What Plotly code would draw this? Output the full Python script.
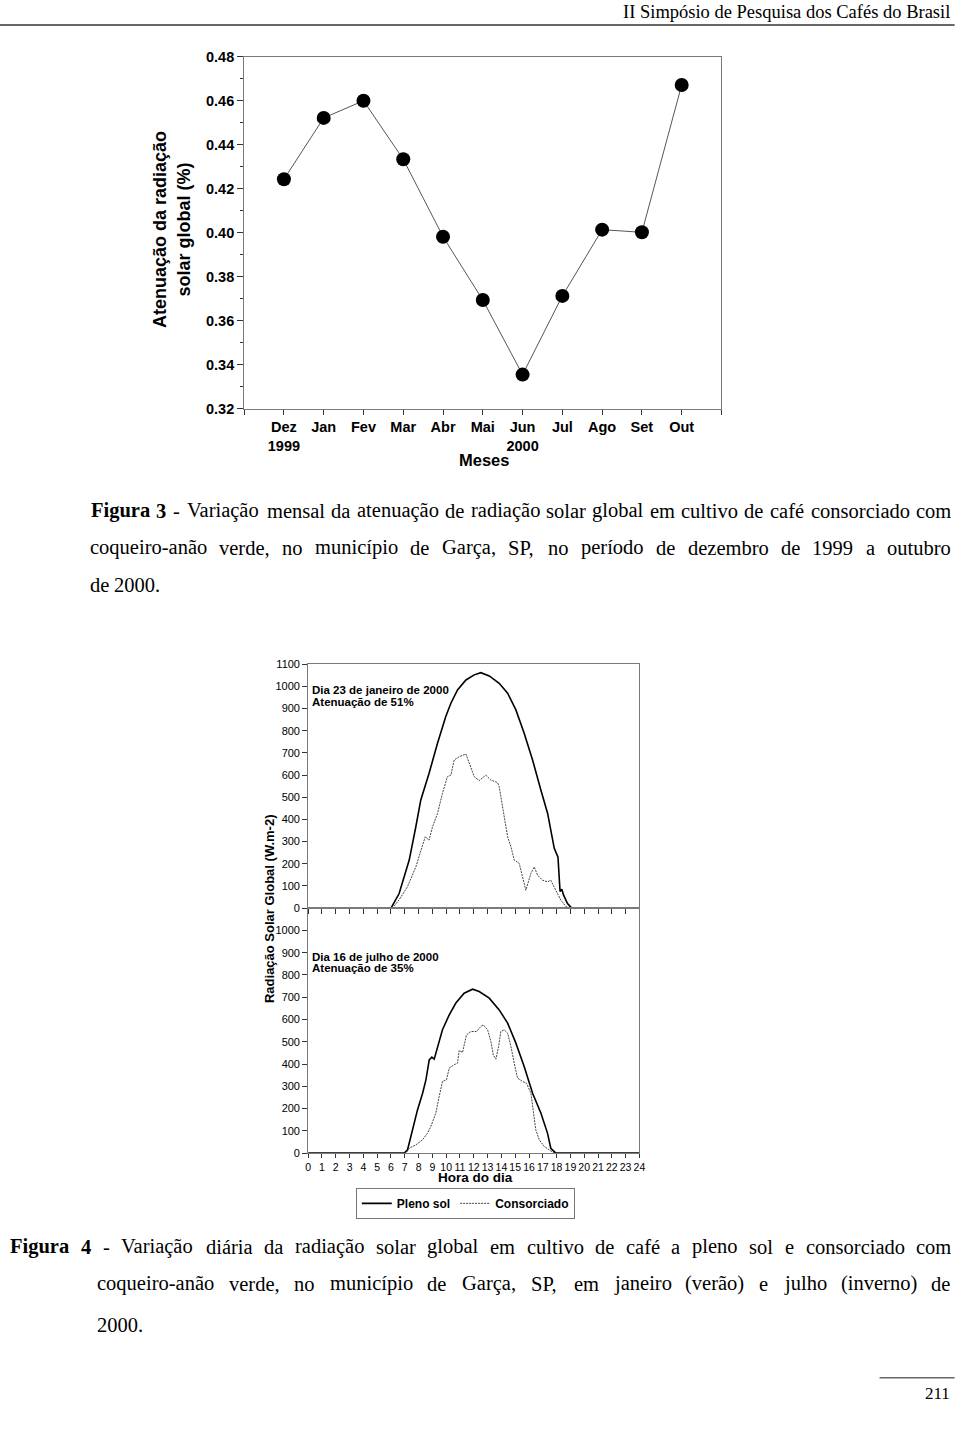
import plotly.graph_objects as go

W, H = 960, 1436
# Observed page-capture transform (rendered = A + S * figure px); positions below are
# given in target-picture pixels and mapped back through it.
SX, SY = 0.99, 0.989
AX0, AY0 = 4.0, 8.0

# ---------------- Data ----------------
months = ["Dez", "Jan", "Fev", "Mar", "Abr", "Mai", "Jun", "Jul", "Ago", "Set", "Out"]
month_years = {"Dez": "1999", "Jun": "2000"}
attenuation = [0.4244, 0.4523, 0.4601, 0.4335, 0.3983, 0.3695, 0.3356, 0.3714, 0.4015, 0.4003, 0.4673]

jan_pleno_h = [0, 6.0, 6.59, 7.32, 7.80, 8.16, 8.76, 9.37, 9.97, 10.34, 10.82, 11.43, 12.03, 12.51,
               13.12, 13.84, 14.45, 15.05, 15.65, 16.26, 16.86, 17.35, 17.83, 18.1, 18.25, 18.38,
               18.5, 18.79, 19.1, 24]
jan_pleno_v = [0, 0, 66, 217, 367, 488, 608, 744, 864, 924, 984, 1029, 1052, 1062,
               1047, 1014, 969, 894, 789, 668, 533, 427, 270, 230, 75, 85, 60, 21, 0, 0]

jan_cons_h = [0, 6.11, 6.59, 7.19, 7.80, 8.16, 8.48, 8.76, 9.01, 9.37, 9.73, 10.09, 10.34, 10.58,
              10.94, 11.43, 11.67, 12.03, 12.39, 12.87, 13.23, 13.72, 13.84, 14.20, 14.45, 14.69,
              14.93, 15.29, 15.53, 15.77, 16.14, 16.38, 16.62, 16.98, 17.34, 17.58, 17.94, 18.31,
              18.67, 19.0, 24]
jan_cons_v = [0, 0, 38, 96, 186, 262, 322, 307, 367, 427, 518, 593, 600, 668,
              683, 695, 653, 593, 575, 600, 578, 566, 548, 412, 322, 277,
              217, 202, 141, 81, 157, 186, 149, 126, 119, 126, 81, 36,
              8, 0, 0]

jul_pleno_h = [0, 6.96, 7.20, 7.56, 7.92, 8.29, 8.53, 8.77, 8.96, 9.13, 9.37, 9.73, 10.22, 10.70,
               11.30, 11.91, 12.39, 13.12, 13.84, 14.45, 15.05, 15.65, 16.26, 16.86, 17.34, 17.58,
               17.95, 24]
jul_pleno_v = [0, 0, 15, 105, 194, 269, 329, 419, 431, 422, 479, 554, 621, 674,
               718, 736, 726, 696, 643, 584, 494, 389, 269, 180, 90, 22,
               0, 0]

jul_cons_h = [0, 7.08, 7.32, 7.80, 8.29, 8.65, 8.89, 9.25, 9.49, 9.73, 10.02, 10.22, 10.58, 10.82,
              10.94, 11.18, 11.47, 11.79, 12.20, 12.51, 12.68, 13.00, 13.24, 13.41, 13.60, 13.80,
              13.96, 14.20, 14.45, 14.69, 14.93, 15.17, 15.53, 15.82, 16.14, 16.30, 16.49, 16.74,
              17.10, 17.46, 17.83, 24]
jul_cons_v = [0, 0, 22, 37, 60, 90, 120, 180, 254, 322, 329, 382, 397, 404,
              461, 452, 531, 546, 546, 569, 576, 554, 501, 441, 422, 479,
              546, 554, 539, 479, 404, 337, 322, 314, 269, 194, 105, 60,
              30, 15, 0, 0]

hour_ticks = list(range(0, 25))

caption3 = [
    "Figura 3 - Variação mensal da atenuação de radiação solar global em cultivo de café consorciado com",
    "coqueiro-anão verde, no município de Garça, SP, no período de dezembro de 1999 a outubro",
    "de 2000.",
]
caption4 = [
    "Figura 4 - Variação diária da radiação solar global em cultivo de café a pleno sol e consorciado com",
    "coqueiro-anão verde, no município de Garça, SP, em janeiro (verão) e julho (inverno) de",
    "2000.",
]

# ---------------- Helpers ----------------
def px_x(x):
    return ((x - AX0) / SX) / W

def px_y(y):
    return 1 - ((y - AY0) / SY) / H

SANS = "Liberation Sans, Arial, sans-serif"
SERIF = "Liberation Serif, Times New Roman, serif"
AXC = "#7a7a7a"
TK = "#333333"

# Times (Liberation Serif) advance widths per 1000 em
TIMES = dict(zip("abcdefghijklmnopqrstuvwxyz",
                 [444, 500, 444, 500, 444, 333, 500, 500, 278, 278, 500, 278, 778,
                  500, 500, 500, 500, 333, 389, 278, 500, 500, 722, 500, 500, 444]))
TIMES.update(dict(zip("ABCDEFGHIJKLMNOPQRSTUVWXYZ",
                      [722, 667, 667, 722, 611, 556, 722, 722, 333, 389, 722, 611, 889,
                       722, 722, 556, 722, 667, 556, 611, 722, 722, 944, 722, 722, 611])))
TIMES.update({c: 500 for c in "0123456789"})
TIMES.update({",": 250, ".": 250, "-": 333, "(": 333, ")": 333, " ": 250})
TIMES_B = dict(TIMES)
TIMES_B.update({"F": 611, "i": 278, "g": 500, "u": 556, "r": 444, "a": 500})
ACCENT = str.maketrans("ãáâàçéêíóôõú", "aaaaceeiooou")

def word_width(word, size, bold):
    table = TIMES_B if bold else TIMES
    return sum(table.get(ch.translate(ACCENT), 500) for ch in word) * size / 1000.0

fig = go.Figure()

# Figure 3 chart
fig.add_trace(go.Scatter(
    x=[i + 1 for i in range(len(months))], y=attenuation,
    mode="lines+markers",
    line=dict(color="#555555", width=1),
    marker=dict(color="black", size=14),
    showlegend=False, xaxis="x", yaxis="y"))

# Figure 4 - January
fig.add_trace(go.Scatter(x=jan_pleno_h, y=jan_pleno_v, mode="lines",
                         line=dict(color="black", width=1.6), showlegend=False,
                         xaxis="x2", yaxis="y2"))
fig.add_trace(go.Scatter(x=jan_cons_h, y=jan_cons_v, mode="lines",
                         line=dict(color="#444444", width=1, dash="2px,1px"), showlegend=False,
                         xaxis="x2", yaxis="y2"))
# Figure 4 - July
fig.add_trace(go.Scatter(x=jul_pleno_h, y=jul_pleno_v, mode="lines", name="Pleno sol",
                         line=dict(color="black", width=1.6),
                         xaxis="x3", yaxis="y3"))
fig.add_trace(go.Scatter(x=jul_cons_h, y=jul_cons_v, mode="lines", name="Consorciado",
                         line=dict(color="#444444", width=1, dash="2px,1px"),
                         xaxis="x3", yaxis="y3"))

month_text = [""] + [m + ("<br>" + month_years[m] if m in month_years else "") for m in months] + [""]

fig.update_layout(
    width=W, height=H, autosize=False,
    margin=dict(l=0, r=0, t=0, b=0),
    paper_bgcolor="white", plot_bgcolor="white",
    font=dict(family=SANS, color="black"),
    xaxis=dict(domain=[px_x(245), px_x(722)], range=[0, 12],
               tickvals=list(range(0, 13)), ticktext=month_text, tickangle=0,
               ticks="outside", ticklen=5, tickcolor=TK,
               tickfont=dict(size=14.5, weight="bold", family=SANS),
               showline=True, linecolor=AXC, linewidth=1, mirror=True,
               showgrid=False, zeroline=False, anchor="y"),
    yaxis=dict(domain=[px_y(409), px_y(57)], range=[0.32, 0.48],
               tickvals=[0.32, 0.34, 0.36, 0.38, 0.40, 0.42, 0.44, 0.46, 0.48],
               tickformat=".2f",
               ticks="outside", ticklen=6, tickcolor=TK,
               minor=dict(dtick=0.01, tick0=0.32, ticks="outside", ticklen=3, tickcolor=TK, showgrid=False),
               tickfont=dict(size=14.5, weight="bold", family=SANS),
               showline=True, linecolor=AXC, linewidth=1, mirror=True,
               showgrid=False, zeroline=False, anchor="x"),
    xaxis2=dict(domain=[px_x(309), px_x(640)], range=[0, 24],
                tickvals=hour_ticks, showticklabels=False,
                ticks="outside", ticklen=5, tickcolor=TK,
                showline=True, linecolor=AXC, linewidth=1, mirror=True,
                showgrid=False, zeroline=False, anchor="y2"),
    yaxis2=dict(domain=[px_y(908.3), px_y(664.3)], range=[0, 1100],
                tickvals=list(range(0, 1101, 100)),
                ticks="outside", ticklen=5, tickcolor=TK,
                tickfont=dict(size=11, family=SANS),
                showline=True, linecolor=AXC, linewidth=1, mirror=True,
                showgrid=False, zeroline=False, anchor="x2"),
    xaxis3=dict(domain=[px_x(309), px_x(640)], range=[0, 24],
                tickvals=hour_ticks, ticktext=[str(h) for h in hour_ticks], tickangle=0,
                ticks="outside", ticklen=4, tickcolor=TK,
                tickfont=dict(size=10.5, family=SANS),
                showline=True, linecolor=AXC, linewidth=1, mirror=True,
                showgrid=False, zeroline=False, anchor="y3"),
    yaxis3=dict(domain=[px_y(1153.3), px_y(908.3)], range=[0, 1100],
                tickvals=list(range(0, 1001, 100)),
                ticks="outside", ticklen=5, tickcolor=TK,
                tickfont=dict(size=11, family=SANS),
                showline=True, linecolor=AXC, linewidth=1, mirror=True,
                showgrid=False, zeroline=False, anchor="x3"),
    legend=dict(orientation="h", x=px_x(466), xanchor="center",
                y=px_y(1188), yanchor="top",
                bordercolor="#777777", borderwidth=1, bgcolor="white",
                font=dict(size=12, weight="bold", family=SANS),
                itemwidth=30, tracegroupgap=0),
)

ann = []
def add_text(text, x, y, size, family=SANS, bold=False, xanchor="center", yanchor="middle", angle=0, color="black"):
    ann.append(dict(text=text, x=px_x(x), y=px_y(y), xref="paper", yref="paper",
                    showarrow=False, xanchor=xanchor, yanchor=yanchor, textangle=angle,
                    borderpad=0,
                    font=dict(size=size, family=family, color=color,
                              weight="bold" if bold else "normal")))

def serif_line(text, x0, x1, y, size, bold_words=0, justify=True):
    words = text.split(" ")
    widths = [word_width(w, size, i < bold_words) * SX for i, w in enumerate(words)]
    if justify and len(words) > 1:
        gap = (x1 - x0 - sum(widths)) / (len(words) - 1)
    else:
        gap = 0.25 * size * SX
    x = x0
    for i, w in enumerate(words):
        add_text(w, x, y, size, family=SERIF, bold=(i < bold_words), xanchor="left")
        x += widths[i] + gap

# Header / footer
add_text("II Simpósio de Pesquisa dos Cafés do Brasil", 951, 12, 18.5, family=SERIF, xanchor="right")
add_text("211", 951, 1394, 17, family=SERIF, xanchor="right")

# Figure 3 titles
add_text("Atenuação da radiação<br>solar global (%)", 173, 230, 18, bold=True, angle=-90)
add_text("Meses", 485, 460, 16.5, bold=True)

# Figure 3 caption (justified)
CAP = 20.5
serif_line(caption3[0], 91, 950, 511, CAP, bold_words=2)
serif_line(caption3[1], 90, 950, 548, CAP)
serif_line(caption3[2], 90, 950, 585, CAP, justify=False)

# Figure 4 panel texts
add_text("Dia 23 de janeiro de 2000", 312, 690, 11.5, bold=True, xanchor="left")
add_text("Atenuação de 51%", 312, 702, 11.5, bold=True, xanchor="left")
add_text("Dia 16 de julho de 2000", 312, 957, 11.5, bold=True, xanchor="left")
add_text("Atenuação de 35%", 312, 968, 11.5, bold=True, xanchor="left")
add_text("Radiação Solar Global (W.m-2)", 271, 909, 13, bold=True, angle=-90)
add_text("Hora do dia", 476, 1178, 13.5, bold=True)

# Figure 4 caption (justified)
serif_line(caption4[0], 10, 950, 1247, CAP, bold_words=2)
serif_line(caption4[1], 97, 950, 1284, CAP)
serif_line(caption4[2], 97, 950, 1325, CAP, justify=False)

fig.update_layout(annotations=ann)

fig.update_layout(shapes=[
    dict(type="line", xref="paper", yref="paper", x0=px_x(0), x1=px_x(955), y0=px_y(25), y1=px_y(25),
         line=dict(color="#666666", width=2)),
    dict(type="line", xref="paper", yref="paper", x0=px_x(880), x1=px_x(955), y0=px_y(1378), y1=px_y(1378),
         line=dict(color="#666666", width=1.5)),
])

fig.write_html("out.html")
